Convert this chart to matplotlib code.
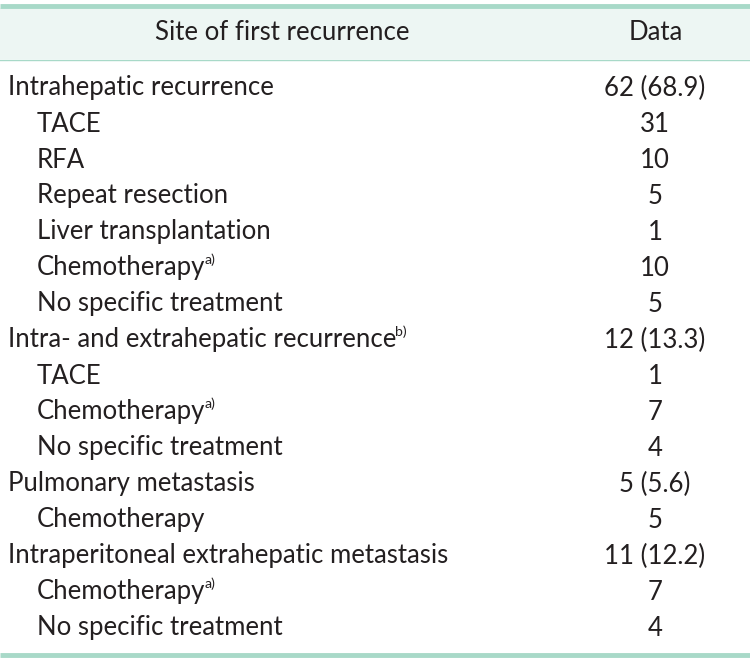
import matplotlib.pyplot as plt

# table content
labels = ['Intrahepatic recurrence', 'TACE', 'RFA', 'Repeat resection',
          'Liver transplantation', 'Chemotherapy', 'No specific treatment',
          'Intra- and extrahepatic recurrence', 'TACE', 'Chemotherapy',
          'No specific treatment', 'Pulmonary metastasis', 'Chemotherapy',
          'Intraperitoneal extrahepatic metastasis', 'Chemotherapy',
          'No specific treatment']
values = ['62 (68.9)', '31', '10', '5', '1', '10', '5', '12 (13.3)', '1', '7',
          '4', '5 (5.6)', '5', '11 (12.2)', '7', '4']
sub_row = [False, True, True, True, True, True, True, False, True, True,
           True, False, True, False, True, True]
notes = ['', '', '', '', '', 'a)', '', 'b)', '', 'a)', '', '', '', '', 'a)', '']
headers = ['Site of first recurrence', 'Data']

plt.rcParams['font.family'] = ['Lato', 'DejaVu Sans']

W, H = 750, 660
fig = plt.figure(figsize=(7.5, 6.6), dpi=100)
ax = fig.add_axes([0, 0, 1, 1])
ax.set_xlim(0, W)
ax.set_ylim(H, 0)
ax.axis('off')

txt = '#231f20'
green = '#a8d9c8'
wt = 'normal'

# header band and rules
ax.add_patch(plt.Rectangle((0, 8), W, 51, color='#edf6f3', lw=0))
ax.plot([0, W], [5.5, 5.5], color=green, lw=3.5, solid_capstyle='butt')
ax.plot([0, W], [59.5, 59.5], color=green, lw=1.0)
ax.plot([0, W], [655, 655], color=green, lw=3.5, solid_capstyle='butt')

# pick font size so the first label is as wide as in the reference
r = fig.canvas.get_renderer()
probe = ax.text(8, 88, labels[0], fontsize=18, fontweight=wt)
w = probe.get_window_extent(r).width
probe.remove()
fs = 18 * 264 / w

ax.text(282, 33, headers[0], ha='center', va='center', fontsize=fs,
        fontweight=wt, color=txt)
ax.text(656, 33, headers[1], ha='center', va='center', fontsize=fs,
        fontweight=wt, color=txt)

y0, dy = 88, 36
for i, (lab, val, sub, note) in enumerate(zip(labels, values, sub_row, notes)):
    y = y0 + i * dy
    x = 37 if sub else 8
    t = ax.text(x, y, lab, ha='left', va='center', fontsize=fs,
                fontweight=wt, color=txt)
    if note:
        xe = t.get_window_extent(r).x1
        ax.text(xe - 1, y - 8, note, ha='left', va='center',
                fontsize=fs * 0.55, fontweight=wt, color=txt)
    ax.text(655, y, val, ha='center', va='center', fontsize=fs,
            fontweight=wt, color=txt)

fig.savefig('out.png', dpi=100)
